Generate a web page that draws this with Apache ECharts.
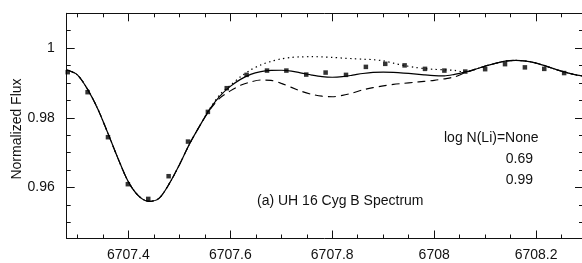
<!DOCTYPE html>
<html>
<head>
<meta charset="utf-8">
<script src="https://cdn.jsdelivr.net/npm/echarts@6/dist/echarts.min.js"></script>
<style>
    html, body { margin: 0; padding: 0; background: #fff; }
    #chart { width: 582px; height: 263px; }
</style>
</head>
<body>
<div id="chart"></div>
<script>
// model wavelength grid (Angstrom)
const wavelength = [
    6707.28, 6707.30, 6707.32, 6707.34, 6707.36, 6707.38, 6707.40, 6707.42, 6707.44, 6707.46,
    6707.48, 6707.50, 6707.52, 6707.54, 6707.56, 6707.58, 6707.60, 6707.62, 6707.64, 6707.66,
    6707.68, 6707.70, 6707.72, 6707.74, 6707.76, 6707.78, 6707.80, 6707.82, 6707.84, 6707.86,
    6707.88, 6707.90, 6707.92, 6707.94, 6707.96, 6707.98, 6708.00, 6708.02, 6708.04, 6708.06,
    6708.08, 6708.10, 6708.12, 6708.14, 6708.16, 6708.18, 6708.20, 6708.22, 6708.24, 6708.26,
    6708.28, 6708.30
];
// log N(Li) = 0.69 (solid)
const fluxLi069 = [
    0.99372, 0.99234, 0.98818, 0.98258, 0.97555, 0.96824, 0.96164, 0.95762, 0.95604, 0.95690,
    0.96106, 0.96651, 0.97254, 0.97770, 0.98258, 0.98631, 0.98904, 0.99105, 0.99248, 0.99326,
    0.99360, 0.99366, 0.99343, 0.99286, 0.99228, 0.99182, 0.99165, 0.99182, 0.99225, 0.99274,
    0.99306, 0.99311, 0.99303, 0.99286, 0.99263, 0.99234, 0.99211, 0.99205, 0.99248, 0.99311,
    0.99392, 0.99484, 0.99564, 0.99627, 0.99650, 0.99630, 0.99572, 0.99484, 0.99383, 0.99297,
    0.99228, 0.99191
];
// log N(Li) = None (dotted)
const fluxLiNone = [
    0.99372, 0.99234, 0.98818, 0.98258, 0.97555, 0.96824, 0.96164, 0.95762, 0.95604, 0.95690,
    0.96106, 0.96651, 0.97254, 0.97770, 0.98273, 0.98674, 0.98933, 0.99177, 0.99377, 0.99521,
    0.99621, 0.99693, 0.99736, 0.99750, 0.99756, 0.99750, 0.99736, 0.99716, 0.99699, 0.99684,
    0.99670, 0.99636, 0.99570, 0.99506, 0.99455, 0.99415, 0.99392, 0.99377, 0.99363, 0.99318,
    0.99392, 0.99484, 0.99564, 0.99627, 0.99650, 0.99630, 0.99572, 0.99484, 0.99383, 0.99297,
    0.99228, 0.99191
];
// log N(Li) = 0.99 (dashed)
const fluxLi099 = [
    0.99372, 0.99234, 0.98818, 0.98258, 0.97555, 0.96824, 0.96164, 0.95762, 0.95604, 0.95690,
    0.96106, 0.96651, 0.97254, 0.97770, 0.98230, 0.98574, 0.98775, 0.98933, 0.99033, 0.99085,
    0.99076, 0.98990, 0.98875, 0.98760, 0.98674, 0.98623, 0.98608, 0.98646, 0.98717, 0.98803,
    0.98867, 0.98918, 0.98961, 0.98990, 0.99019, 0.99047, 0.99076, 0.99119, 0.99177, 0.99291,
    0.99392, 0.99484, 0.99564, 0.99627, 0.99650, 0.99630, 0.99572, 0.99484, 0.99383, 0.99297,
    0.99228, 0.99191
];
// observed spectrum (squares)
const obsWavelength = [
    6707.281, 6707.320, 6707.360, 6707.399, 6707.439, 6707.479, 6707.517, 6707.556, 6707.593,
    6707.632, 6707.672, 6707.710, 6707.749, 6707.787, 6707.827, 6707.866, 6707.904, 6707.942,
    6707.982, 6708.020, 6708.061, 6708.100, 6708.139, 6708.178, 6708.216, 6708.255
];
const obsFlux = [
    0.99311, 0.98737, 0.97446, 0.96098, 0.95676, 0.96327, 0.97320, 0.98172, 0.98852,
    0.99234, 0.99357, 0.99357, 0.99242, 0.99300, 0.99234, 0.99463, 0.99550, 0.99506,
    0.99406, 0.99357, 0.99329, 0.99397, 0.99541, 0.99449, 0.99406, 0.99286
];
// ticks
const xMajorTicks = [6707.4, 6707.6, 6707.8, 6708, 6708.2];
const xMinorTicks = [6707.3, 6707.35, 6707.45, 6707.5, 6707.55, 6707.65, 6707.7, 6707.75,
    6707.85, 6707.9, 6707.95, 6708.05, 6708.1, 6708.15, 6708.25];
const yMajorTicks = [0.96, 0.98, 1];
const yMinorTicks = [0.95, 0.955, 0.965, 0.97, 0.975, 0.985, 0.99, 0.995, 1.005];
const legendLabels = ["log N(Li)=None", "0.69", "0.99"];

(function (window, document) {
    "use strict";

    const SEL = { host: "#chart" };
    const FONT = "'Liberation Sans', Arial, sans-serif";
    const INK = "#111";
    const X_MIN = 6707.279, X_MAX = 6708.292;
    const Y_MIN = 0.9454, Y_MAX = 1.0100;

    const pairs = (xs, ys) => xs.map((x, i) => [x, ys[i]]);
    const plain = v => String(+v.toFixed(3)); // no thousands separator

    // one axis per tick set, all on the same grid
    function xAx(position, ticks, len, withLine, labels) {
        return {
            type: "value", position, min: X_MIN, max: X_MAX,
            axisLine: { show: withLine, lineStyle: { color: INK, width: 1 } },
            axisTick: { show: true, inside: true, length: len, customValues: ticks, lineStyle: { color: INK, width: 1 } },
            axisLabel: labels
                ? { show: true, customValues: labels, formatter: plain, margin: 10, color: INK, fontSize: 14, fontFamily: FONT }
                : { show: false },
            splitLine: { show: false }
        };
    }

    function yAx(position, ticks, len, withLine, labels) {
        return {
            type: "value", position, min: Y_MIN, max: Y_MAX,
            axisLine: { show: withLine, lineStyle: { color: INK, width: 1 } },
            axisTick: { show: true, inside: true, length: len, customValues: ticks, lineStyle: { color: INK, width: 1 } },
            axisLabel: labels
                ? { show: true, customValues: labels, formatter: plain, margin: 12, color: INK, fontSize: 14, fontFamily: FONT }
                : { show: false },
            splitLine: { show: false }
        };
    }

    function line(name, ys, type, width) {
        return {
            name, type: "line", data: pairs(wavelength, ys),
            showSymbol: false, smooth: 0.3, silent: true,
            lineStyle: { color: "#000", width, type },
            z: 2
        };
    }

    function txt(text, x, y, align) {
        return {
            type: "text", x, y,
            style: { text, fill: INK, fontSize: 14, fontFamily: FONT, align: align || "left", verticalAlign: "middle" }
        };
    }

    function init() {
        const el = document.querySelector(SEL.host);
        if (!el || !window.echarts) return;
        const chart = echarts.init(el, null, { renderer: "canvas" });
        chart.setOption({
            animation: false,
            grid: { left: 66.7, top: 13.3, width: 516.3, height: 225.2, outerBoundsMode: "none" },
            xAxis: [
                xAx("bottom", xMajorTicks, 8, true, xMajorTicks),
                xAx("bottom", xMinorTicks, 4, false, null),
                xAx("top", xMajorTicks, 8, true, null),
                xAx("top", xMinorTicks, 4, false, null)
            ],
            yAxis: [
                yAx("left", yMajorTicks, 8, true, yMajorTicks),
                yAx("left", yMinorTicks, 4, false, null),
                yAx("right", yMajorTicks, 8, false, null),
                yAx("right", yMinorTicks, 4, false, null)
            ],
            series: [
                line("None", fluxLiNone, [1.4, 3.4], 1.2),
                line("0.99", fluxLi099, [8, 5], 1.1),
                line("0.69", fluxLi069, "solid", 1.2),
                {
                    name: "UH 16 Cyg B", type: "scatter", data: pairs(obsWavelength, obsFlux),
                    symbol: "rect", symbolSize: 4.5, silent: true,
                    itemStyle: { color: "#000" }, z: 3
                }
            ],
            graphic: [
                {
                    type: "text", x: 17, y: 129, rotation: Math.PI / 2,
                    style: { text: "Normalized Flux", fill: INK, fontSize: 14, fontFamily: FONT, align: "center", verticalAlign: "middle" }
                },
                txt(legendLabels[0], 444, 138.5),
                txt(legendLabels[1], 533, 159, "right"),
                txt(legendLabels[2], 533, 180.5, "right"),
                txt("(a) UH 16 Cyg B Spectrum", 257, 201.5)
            ]
        });
        window.addEventListener("resize", () => chart.resize());
    }

    init();
})(window, document);
</script>
</body>
</html>
